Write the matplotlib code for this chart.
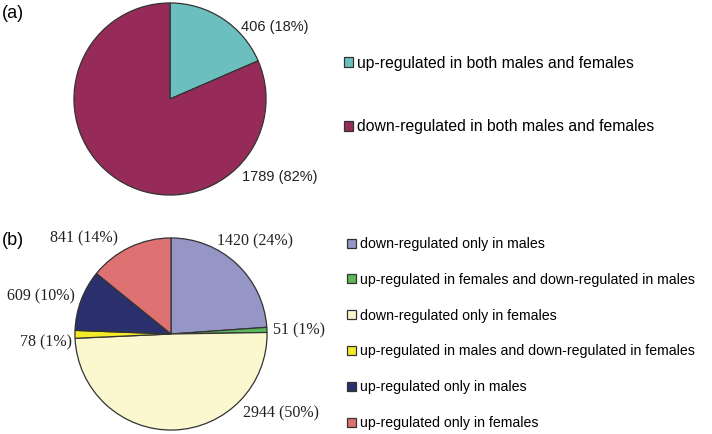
import matplotlib.pyplot as plt
import numpy as np

# data
labels_a = ['up-regulated in both males and females',
            'down-regulated in both males and females']
counts_a = [406, 1789]
pct_a = [18, 82]
colors_a = ['#6cbfbf', '#962b5a']

labels_b = ['down-regulated only in males',
            'up-regulated in females and down-regulated in males',
            'down-regulated only in females',
            'up-regulated in males and down-regulated in females',
            'up-regulated only in males',
            'up-regulated only in females']
counts_b = [1420, 51, 2944, 78, 609, 841]
pct_b = [24, 1, 50, 1, 10, 14]
colors_b = ['#9595c6', '#5cb85c', '#fbf8d0', '#f5eb28', '#2b2f6b', '#de7272']

W, H = 712, 434
fig = plt.figure(figsize=(W / 100, H / 100), dpi=100)


def pie_axes(cx, cy, r):
    ax = fig.add_axes([(cx - r) / W, (H - cy - r) / H, 2 * r / W, 2 * r / H])
    return ax


def px(cx, cy, r, x, y):
    return (x - cx) / r, (cy - y) / r


wp = dict(edgecolor='#333333', linewidth=0.9)

# (a)
cxa, cya, ra = 170, 99, 97
ax1 = pie_axes(cxa, cya, ra)
wedges_a, _ = ax1.pie(counts_a, colors=colors_a, startangle=90, counterclock=False,
                      radius=1, wedgeprops=wp, frame=True)
ax1.axis('off')
ax1.set_xlim(-1.01, 1.01)
ax1.set_ylim(-1.01, 1.01)
for (x, y, ha), c, p in zip([(242, 26, 'left'), (243, 178, 'left')], counts_a, pct_a):
    tx, ty = px(cxa, cya, ra, x, y)
    ax1.text(tx, ty, f'{c} ({p}%)', ha=ha, va='center', fontsize=10.5,
             family='Liberation Sans', color='#222222', clip_on=False)
fig.text(2 / W, 1 - 14 / H, '(a)', fontsize=13, family='Liberation Sans', va='center')
fig.legend(wedges_a, labels_a, loc='upper left', bbox_to_anchor=(344 / W, 1 - 56 / H),
           frameon=False, prop={'family': 'Liberation Sans', 'size': 11.3},
           handlelength=0.6, handleheight=0.6, handletextpad=0.25, labelspacing=3.08,
           borderaxespad=0, borderpad=0)

# (b)
cxb, cyb, rb = 171, 334, 97
ax2 = pie_axes(cxb, cyb, rb)
wedges_b, _ = ax2.pie(counts_b, colors=colors_b, startangle=90, counterclock=False,
                      radius=1, wedgeprops=wp, frame=True)
ax2.axis('off')
ax2.set_xlim(-1.01, 1.01)
ax2.set_ylim(-1.01, 1.01)
pos_b = [(217, 240, 'left'), (274, 330, 'left'), (244, 414, 'left'),
         (71, 342, 'right'), (74, 296, 'right'), (117, 237, 'right')]
for (x, y, ha), c, p in zip(pos_b, counts_b, pct_b):
    tx, ty = px(cxb, cyb, rb, x, y)
    ax2.text(tx, ty, f'{c} ({p}%)', ha=ha, va='center', fontsize=11.5,
             family='Liberation Serif', color='#222222', clip_on=False)
fig.text(2 / W, 1 - 240 / H, '(b)', fontsize=13, family='Liberation Sans', va='center')
fig.legend(wedges_b, labels_b, loc='upper left', bbox_to_anchor=(347 / W, 1 - 237 / H),
           frameon=False, prop={'family': 'Liberation Sans', 'size': 10.2},
           handlelength=0.6, handleheight=0.6, handletextpad=0.3, labelspacing=1.54,
           borderaxespad=0, borderpad=0)

fig.savefig('out.png', dpi=100, facecolor='white')
